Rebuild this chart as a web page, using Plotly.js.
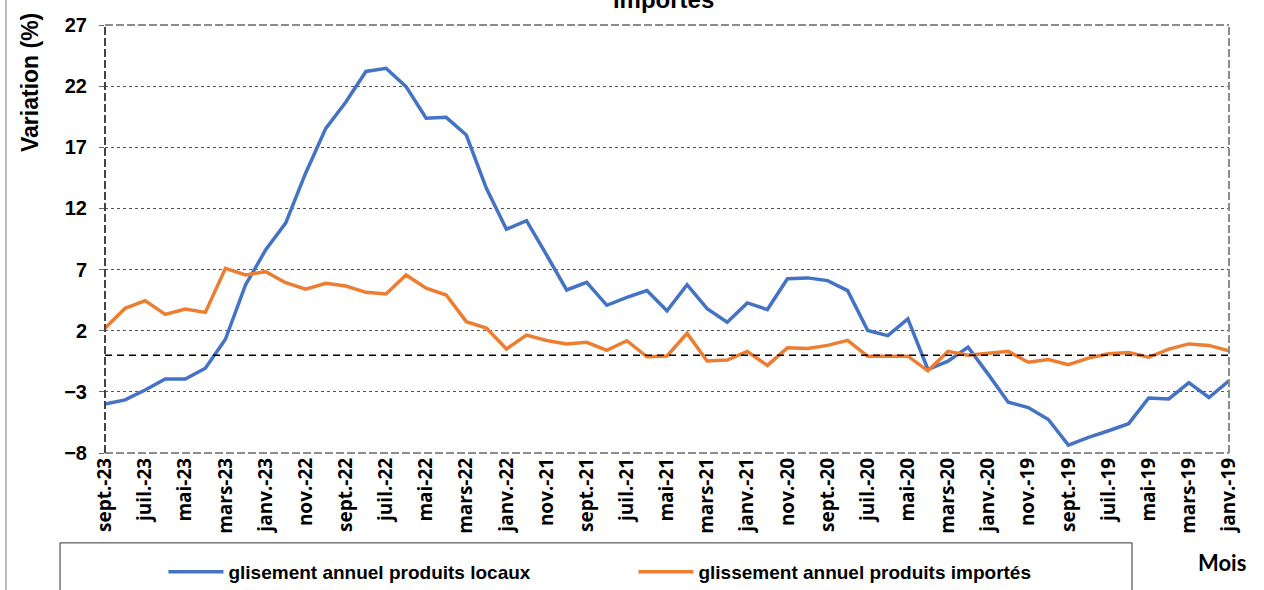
<!DOCTYPE html>
<html>
<head>
<meta charset="utf-8">
<script src="https://cdn.plot.ly/plotly-3.0.1.min.js"></script>
<style>
html,body{margin:0;padding:0;background:#fff;}
#chart{width:1264px;height:590px;}
</style>
</head>
<body>
<div id="chart"></div>
<script>
const months = [
  "sept.-23","août-23","juil.-23","juin-23","mai-23","avr.-23","mars-23","févr.-23","janv.-23",
  "déc.-22","nov.-22","oct.-22","sept.-22","août-22","juil.-22","juin-22","mai-22","avr.-22","mars-22","févr.-22","janv.-22",
  "déc.-21","nov.-21","oct.-21","sept.-21","août-21","juil.-21","juin-21","mai-21","avr.-21","mars-21","févr.-21","janv.-21",
  "déc.-20","nov.-20","oct.-20","sept.-20","août-20","juil.-20","juin-20","mai-20","avr.-20","mars-20","févr.-20","janv.-20",
  "déc.-19","nov.-19","oct.-19","sept.-19","août-19","juil.-19","juin-19","mai-19","avr.-19","mars-19","févr.-19","janv.-19"
];

const locaux = [
  -4.0, -3.66, -2.85, -1.95, -1.95, -1.07, 1.3, 5.74, 8.6,
  10.8, 14.9, 18.55, 20.7, 23.2, 23.46, 21.96, 19.37, 19.45, 18.0, 13.64, 10.3,
  11.0, 8.2, 5.33, 5.95, 4.08, 4.72, 5.28, 3.63, 5.76, 3.81, 2.69, 4.27,
  3.73, 6.25, 6.32, 6.1, 5.28, 2.02, 1.6, 2.96, -1.16, -0.49, 0.66, -1.55,
  -3.85, -4.28, -5.26, -7.36, -6.72, -6.18, -5.6, -3.5, -3.58, -2.25, -3.46, -2.1
];

const importes = [
  2.2, 3.83, 4.46, 3.34, 3.78, 3.5, 7.1, 6.56, 6.83,
  5.93, 5.4, 5.88, 5.66, 5.14, 5.0, 6.56, 5.47, 4.92, 2.74, 2.21, 0.5,
  1.64, 1.2, 0.92, 1.05, 0.4, 1.18, -0.13, -0.07, 1.78, -0.47, -0.4, 0.3,
  -0.84, 0.6, 0.54, 0.8, 1.21, -0.09, -0.08, -0.08, -1.28, 0.31, 0.0, 0.12,
  0.31, -0.58, -0.36, -0.78, -0.24, 0.12, 0.22, -0.17, 0.5, 0.92, 0.8, 0.36
];

const tickLabels = months.filter((m, i) => i % 2 === 0);
const yTicks = [-8, -3, 2, 7, 12, 17, 22, 27];

const seriesNames = ["glisement annuel produits locaux", "glissement annuel produits importés"];

const traces = [
  {x: months, y: locaux, type: "scatter", mode: "lines", name: seriesNames[0],
   line: {color: "#4472C4", width: 3.5}},
  {x: months, y: importes, type: "scatter", mode: "lines", name: seriesNames[1],
   line: {color: "#ED7D31", width: 3.5}}
];

const zeroPos = (0 - (-8)) / 35;
const ARIAL = "Liberation Sans, Arial, sans-serif";

const layout = {
  width: 1264, height: 590,
  margin: {l: 105, r: 35, t: 25, b: 137},
  paper_bgcolor: "#fff", plot_bgcolor: "#fff",
  font: {family: ARIAL, color: "#000"},
  showlegend: true,
  title: {text: "importés", font: {family: ARIAL, size: 24, weight: "bold", color: "#000"},
          x: 0.525, xanchor: "center", yref: "container", y: 1, yanchor: "middle"},
  xaxis: {
    type: "category", categoryorder: "array", categoryarray: months,
    range: [0, months.length - 1],
    tickmode: "array", tickvals: tickLabels, ticktext: tickLabels,
    tickangle: -90, ticks: "", showgrid: false, zeroline: false, showline: false,
    automargin: false,
    tickfont: {family: "Open Sans, sans-serif", size: 19, weight: "bold", color: "#000"}
  },
  xaxis2: {
    type: "category", categoryorder: "array", categoryarray: months,
    matches: "x", overlaying: "x", anchor: "free", position: zeroPos,
    range: [0, months.length - 1],
    tickmode: "array", tickvals: months, ticks: "outside", ticklen: 5, tickwidth: 1, tickcolor: "#000",
    showticklabels: false, showgrid: false, zeroline: false, showline: false
  },
  yaxis: {
    range: [-8, 27], tickmode: "array", tickvals: yTicks,
    showgrid: true, gridcolor: "#555", griddash: "dot", gridwidth: 1,
    zeroline: false, showline: false, ticks: "outside", ticklen: 5, tickcolor: "#666",
    ticklabelstandoff: 8, automargin: false,
    tickfont: {family: ARIAL, size: 20, weight: "bold", color: "#000"}
  },
  legend: {
    orientation: "h", xref: "paper", x: 0.052, xanchor: "left",
    yref: "container", y: 1 - 572 / 590, yanchor: "middle",
    bgcolor: "rgba(0,0,0,0)", borderwidth: 0,
    entrywidth: 400, entrywidthmode: "pixels", itemwidth: 55,
    font: {family: ARIAL, size: 19, weight: "bold", color: "#000"}
  },
  shapes: [
    {type: "line", xref: "paper", yref: "paper", x0: 0, x1: 1, y0: 1, y1: 1, line: {color: "#8c8c8c", width: 2, dash: "8px,3px"}},
    {type: "line", xref: "paper", yref: "paper", x0: 0, x1: 1, y0: 0, y1: 0, line: {color: "#8c8c8c", width: 2, dash: "8px,3px"}},
    {type: "line", xref: "paper", yref: "paper", x0: 1, x1: 1, y0: 0, y1: 1, line: {color: "#8c8c8c", width: 2, dash: "8px,3px"}},
    {type: "line", xref: "paper", yref: "paper", x0: 0, x1: 0, y0: 0, y1: 1, line: {color: "#444", width: 2, dash: "8px,3px"}},
    {type: "line", xref: "paper", yref: "y", x0: 0, x1: 1, y0: 0, y1: 0, line: {color: "#000", width: 1.5, dash: "7px,5px"}},
    {type: "rect", xref: "paper", yref: "paper", x0: -0.04, x1: 0.9137, y0: -0.21, y1: -0.36, line: {color: "#333", width: 1}, fillcolor: "rgba(0,0,0,0)"},
    {type: "line", xref: "paper", yref: "paper", x0: -0.0881, x1: -0.0881, y0: -0.36, y1: 1.1, line: {color: "#777", width: 1}}
  ],
  annotations: [
    {text: "Variation (%)", xref: "paper", yref: "paper", x: -0.0667, y: 0.8645, textangle: -90,
     xanchor: "center", yanchor: "middle", showarrow: false,
     font: {family: ARIAL, size: 23, weight: "bold", color: "#000"}},
    {text: "Mois", xref: "paper", yref: "paper", x: 0.9938, y: -0.257,
     xanchor: "center", yanchor: "middle", showarrow: false,
     font: {family: "Lato, sans-serif", size: 22, weight: "bold", color: "#000"}}
  ]
};

Plotly.newPlot("chart", traces, layout, {displayModeBar: false, staticPlot: true});
</script>
</body>
</html>
